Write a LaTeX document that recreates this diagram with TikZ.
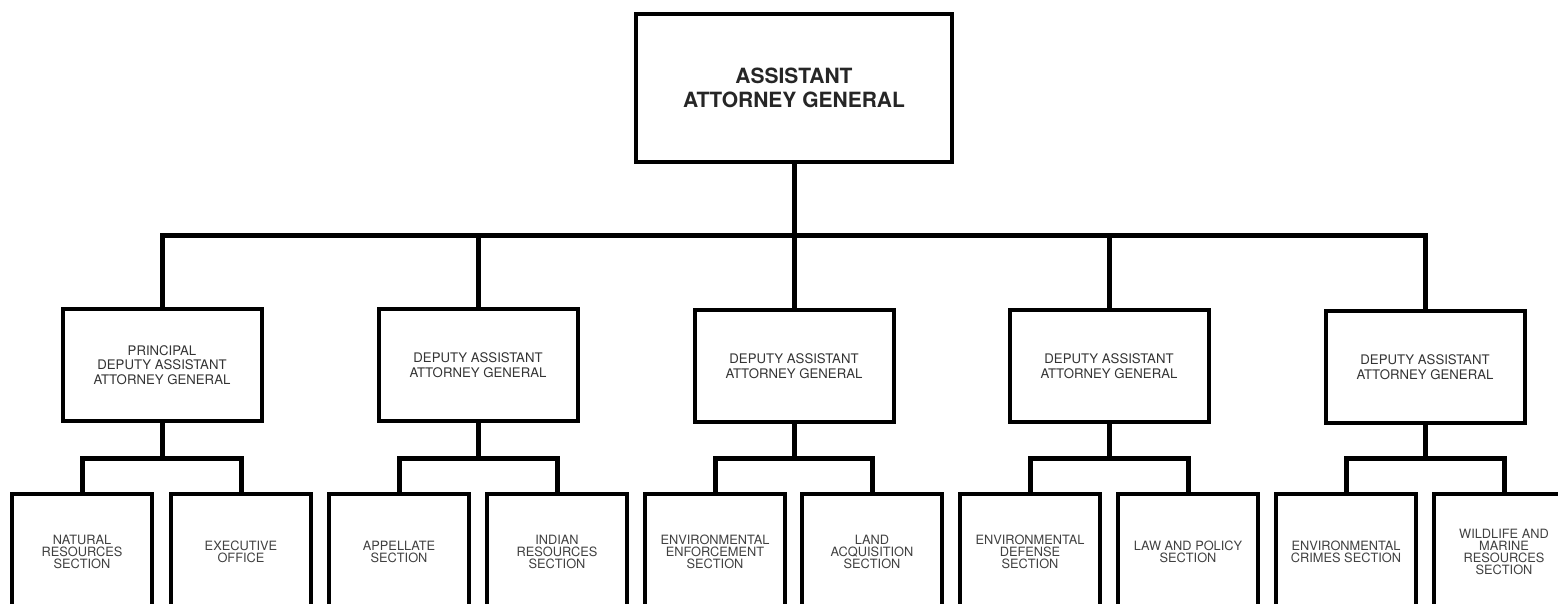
\documentclass[tikz,border=0pt]{standalone}
\usepackage{fontspec}
\setmainfont{TeX Gyre Heros}
\tikzset{
  chief/.style={draw, line width=2pt, minimum width=158pt, minimum height=74pt,
    align=center, font=\fontsize{10.5}{12}\selectfont\bfseries, text=black!85},
  daag/.style={draw, line width=2pt, minimum width=99.5pt, minimum height=55.5pt,
    align=center, font=\fontsize{6.6}{7.4}\selectfont, text=black!80},
  sect/.style={draw, line width=2pt, minimum width=70pt, minimum height=58pt,
    align=center, font=\fontsize{6.4}{6.1}\selectfont, text=black!75},
  conn/.style={line width=2.5pt}
}
\begin{document}
\begin{tikzpicture}[x=0.5pt, y=-0.5pt]
\useasboundingbox (0,0) rectangle (1558,604);

% assistant attorney general
\node[chief] (aag) at (794,88) {ASSISTANT\\ATTORNEY GENERAL};

% deputies
\node[daag] (dep1) at (162,365) {PRINCIPAL\\DEPUTY ASSISTANT\\ATTORNEY GENERAL};
\node[daag] (dep2) at (478,365) {DEPUTY ASSISTANT\\ATTORNEY GENERAL};
\node[daag] (dep3) at (794,366) {DEPUTY ASSISTANT\\ATTORNEY GENERAL};
\node[daag] (dep4) at (1109,366) {DEPUTY ASSISTANT\\ATTORNEY GENERAL};
\node[daag] (dep5) at (1425,367) {DEPUTY ASSISTANT\\ATTORNEY GENERAL};

% sections
\node[sect] (natres) at (82,552) {NATURAL\\RESOURCES\\SECTION};
\node[sect] (exec) at (241,552) {EXECUTIVE\\OFFICE};
\node[sect] (appel) at (399,552) {APPELLATE\\SECTION};
\node[sect] (indian) at (557,552) {INDIAN\\RESOURCES\\SECTION};
\node[sect] (enforce) at (715,552) {ENVIRONMENTAL\\ENFORCEMENT\\SECTION};
\node[sect] (land) at (872,552) {LAND\\ACQUISITION\\SECTION};
\node[sect] (defense) at (1030,552) {ENVIRONMENTAL\\DEFENSE\\SECTION};
\node[sect] (policy) at (1188,552) {LAW AND POLICY\\SECTION};
\node[sect] (crimes) at (1346,552) {ENVIRONMENTAL\\CRIMES SECTION};
\node[sect] (wildlife) at (1504,552) {WILDLIFE AND\\MARINE\\RESOURCES\\SECTION};

% bus lines
\coordinate (bus) at (794,236);
\draw[conn] (aag) -- (bus);
\draw[conn] (dep1.north) |- (bus) -| (dep5.north);
\draw[conn] (dep2.north) -- (dep2.north |- bus);
\draw[conn] (dep3.north) -- (dep3.north |- bus);
\draw[conn] (dep4.north) -- (dep4.north |- bus);

\coordinate (sub1) at (162,458);
\coordinate (sub2) at (478,458);
\coordinate (sub3) at (794,458);
\coordinate (sub4) at (1109,458);
\coordinate (sub5) at (1425,458);
\draw[conn] (dep1) -- (sub1);
\draw[conn] (dep2) -- (sub2);
\draw[conn] (dep3) -- (sub3);
\draw[conn] (dep4) -- (sub4);
\draw[conn] (dep5) -- (sub5);
\draw[conn] (natres.north) |- (sub1) -| (exec.north);
\draw[conn] (appel.north) |- (sub2) -| (indian.north);
\draw[conn] (enforce.north) |- (sub3) -| (land.north);
\draw[conn] (defense.north) |- (sub4) -| (policy.north);
\draw[conn] (crimes.north) |- (sub5) -| (wildlife.north);

\end{tikzpicture}
\end{document}
